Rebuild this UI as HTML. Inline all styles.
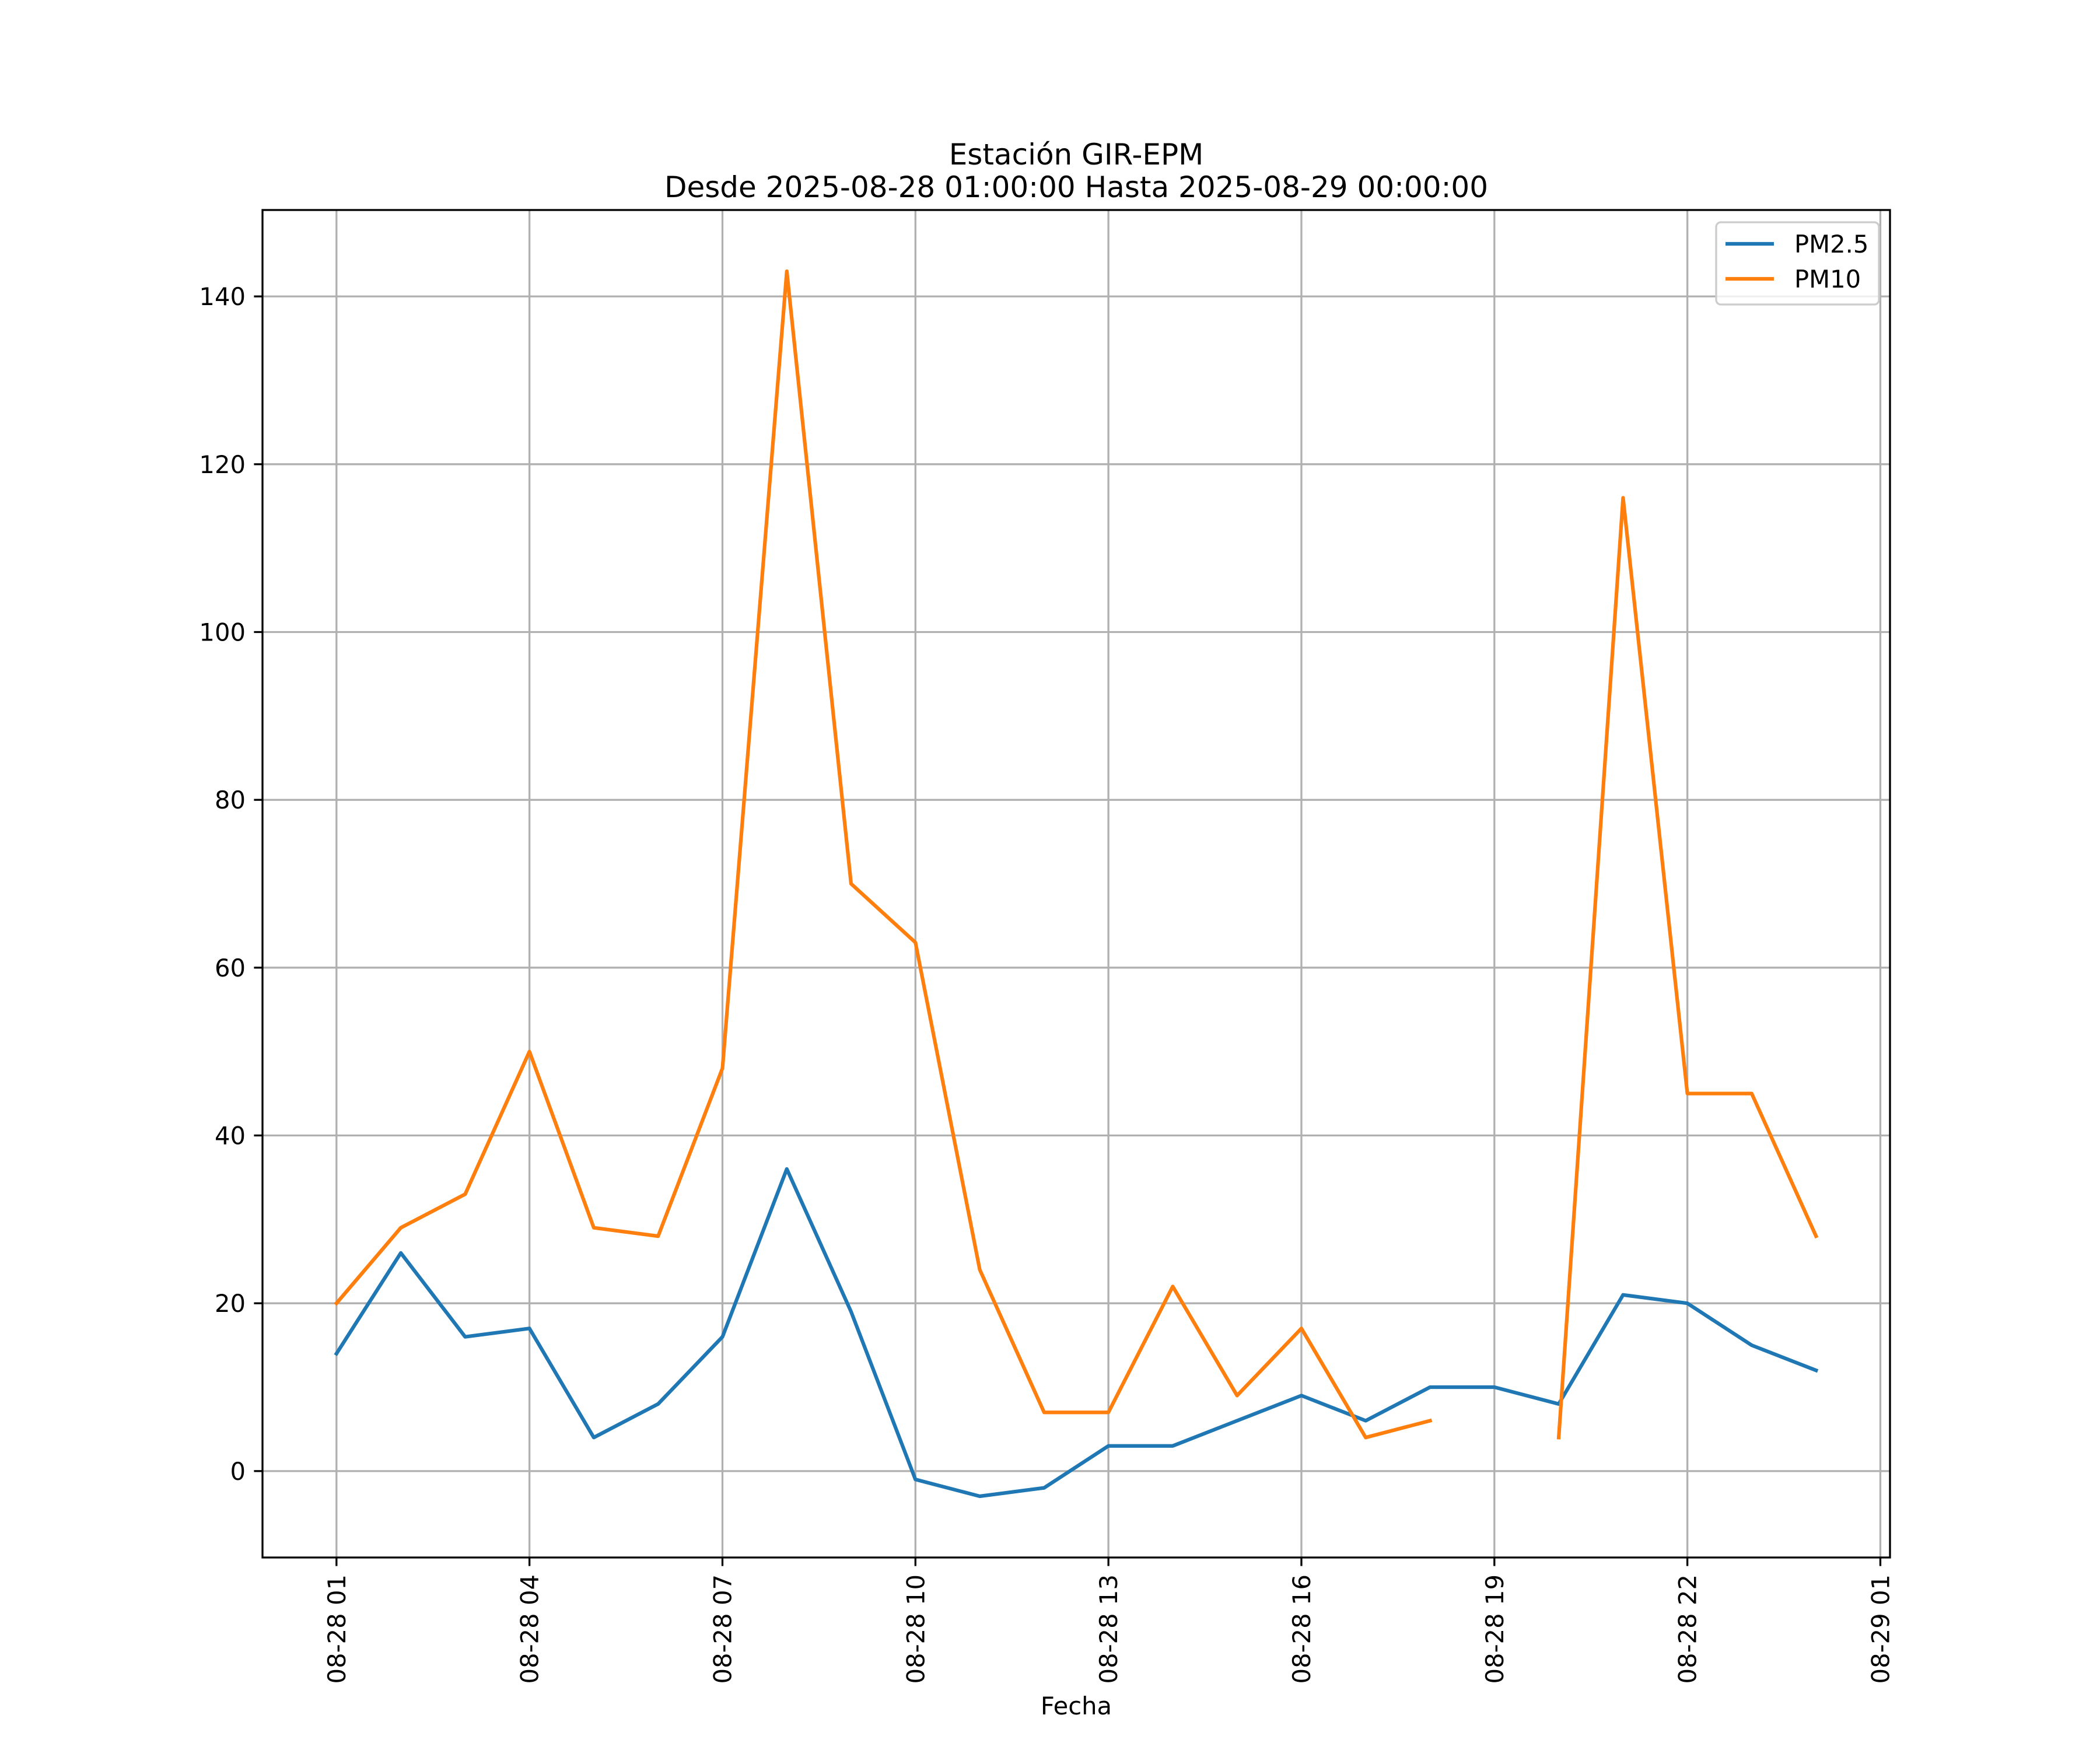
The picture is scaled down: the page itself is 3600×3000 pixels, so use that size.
<!DOCTYPE html>
<html><head><meta charset="utf-8"><style>
html,body{margin:0;padding:0;background:#fff}
svg{display:block;font-family:"DejaVu Sans","Liberation Sans",sans-serif}
</style></head><body>
<svg id="chart" width="3600" height="3000" viewBox="0 0 3600 3000" xmlns="http://www.w3.org/2000/svg">
<rect width="3600" height="3000" fill="#fff"/>
<text x="1845" y="282" font-size="50" text-anchor="middle">Estación GIR-EPM</text>
<text x="1845" y="338" font-size="50" text-anchor="middle">Desde 2025-08-28 01:00:00 Hasta 2025-08-29 00:00:00</text>
<g id="grid"></g>
<g id="series"></g>
<rect x="450" y="360" width="2790" height="2310" fill="none" stroke="#000" stroke-width="3.3"/>
<g id="ticks"></g>
<text x="1845" y="2939" font-size="41.7" text-anchor="middle">Fecha</text>
<g>
<rect x="2942" y="381" width="279" height="141" rx="8" fill="#fff" fill-opacity="0.8" stroke="#ccc" stroke-width="3.3"/>
<line x1="2958" y1="418" x2="3041" y2="418" stroke="#1f77b4" stroke-width="6.25"/>
<text x="3076" y="433" font-size="41.7">PM2.5</text>
<line x1="2958" y1="478" x2="3041" y2="478" stroke="#ff7f0e" stroke-width="6.25"/>
<text x="3076" y="493" font-size="41.7">PM10</text>
</g>
</svg>
<script>
const hours = [1,2,3,4,5,6,7,8,9,10,11,12,13,14,15,16,17,18,19,20,21,22,23,24];
const pm25 = [14,26,16,17,4,8,16,36,19,-1,-3,-2,3,3,6,9,6,10,10,8,21,20,15,12];
const pm10 = [20,29,33,50,29,28,48,143,70,63,24,7,7,22,9,17,4,6,null,4,116,45,45,28];
const xTicks = [1,4,7,10,13,16,19,22,25];
const xTickLabels = ["08-28 01","08-28 04","08-28 07","08-28 10","08-28 13","08-28 16","08-28 19","08-28 22","08-29 01"];
const yTicks = [0,20,40,60,80,100,120,140];

const L=450,R=3240,T=360,B=2670;
const xMin=-0.15,xMax=25.15,yMin=-10.3,yMax=150.3;
const NS="http://www.w3.org/2000/svg";
function xs(v){return L+(v-xMin)/(xMax-xMin)*(R-L);}
function ys(v){return B-(v-yMin)/(yMax-yMin)*(B-T);}
function mk(tag,attrs,parent){const e=document.createElementNS(NS,tag);for(const k in attrs)e.setAttribute(k,attrs[k]);parent.appendChild(e);return e;}
const grid=document.getElementById('grid'),ticks=document.getElementById('ticks'),series=document.getElementById('series');

xTicks.forEach((t,i)=>{
  const x=xs(t);
  const g=mk('line',{x1:x,y1:T,x2:x,y2:B,stroke:'#b0b0b0','stroke-width':3.3},grid);
  
  
  const tk=mk('line',{x1:x,y1:B,x2:x,y2:B+14.6,stroke:'#000','stroke-width':3.3},ticks);
  
  
  const tx=mk('text',{transform:`translate(${x+15},${B+29}) rotate(-90)`,'font-size':41.7,'text-anchor':'end'},ticks);
  tx.textContent=xTickLabels[i];
  
  
});
yTicks.forEach(t=>{
  const y=ys(t);
  const g=mk('line',{x1:L,y1:y,x2:R,y2:y,stroke:'#b0b0b0','stroke-width':3.3},grid);
  
  
  const tk=mk('line',{x1:L-14.6,y1:y,x2:L,y2:y,stroke:'#000','stroke-width':3.3},ticks);
  
  
  const tx=mk('text',{x:L-29,y:y+15,'font-size':41.7,'text-anchor':'end'},ticks);
  tx.textContent=String(t);
  
  
});
function pathFor(vals){
  let d='',pen=false;
  vals.forEach((v,i)=>{
    if(v===null){pen=false;return;}
    d+=(pen?'L':'M')+xs(hours[i]).toFixed(1)+' '+ys(v).toFixed(1)+' ';
    pen=true;
  });
  return d;
}
const p1=mk('path',{d:pathFor(pm25),fill:'none',stroke:'#1f77b4','stroke-width':6.25,'stroke-linejoin':'round','stroke-linecap':'square'},series);


const p2=mk('path',{d:pathFor(pm10),fill:'none',stroke:'#ff7f0e','stroke-width':6.25,'stroke-linejoin':'round','stroke-linecap':'square'},series);


</script>
</body></html>
